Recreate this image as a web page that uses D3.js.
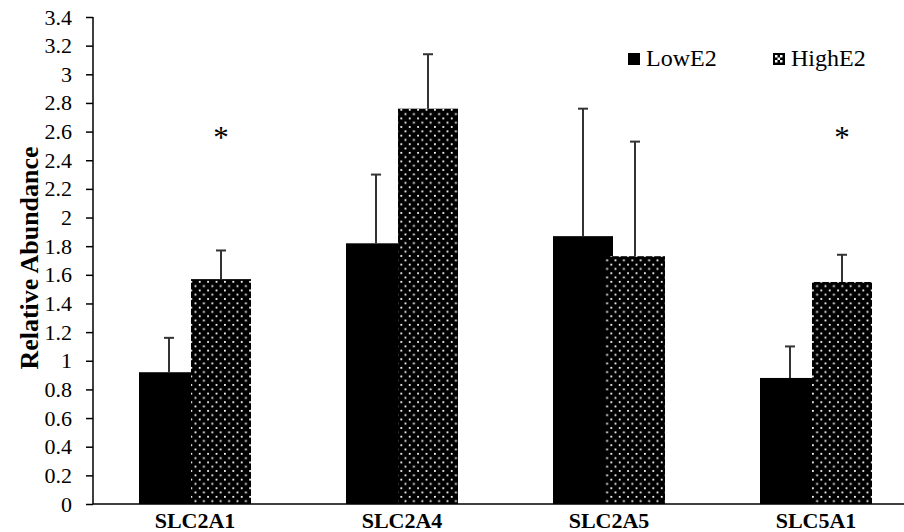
<!DOCTYPE html>
<html>
<head>
<meta charset="utf-8">
<script src="https://d3js.org/d3.v7.min.js"></script>
<style>
  body { margin: 0; background: #fff; }
  text { font-family: "Liberation Serif", "Times New Roman", serif; }
</style>
</head>
<body>
<script>
// relative abundance per gene, two E2 groups
var categories = ["SLC2A1", "SLC2A4", "SLC2A5", "SLC5A1"];
var seriesNames = ["LowE2", "HighE2"];
var lowE2 = [0.92, 1.82, 1.87, 0.88];
var lowE2Err = [0.24, 0.48, 0.89, 0.22];
var highE2 = [1.57, 2.76, 1.73, 1.55];
var highE2Err = [0.20, 0.38, 0.80, 0.19];
var significant = [true, false, false, true];
var starLevel = 2.6;
var yTicks = d3.range(0, 3.41, 0.2).map(function(d){ return +d.toFixed(1); });

var width = 904, height = 532;
var svg = d3.select("body").append("svg").attr("width", width).attr("height", height);

// dotted fill for HighE2
var defs = svg.append("defs");
var pat = defs.append("pattern").attr("id", "dots")
    .attr("patternUnits", "userSpaceOnUse")
    .attr("width", 8.4).attr("height", 8.6);
pat.append("rect").attr("width", 8.4).attr("height", 8.6).attr("fill", "#000");
pat.append("rect").attr("x", 1.4).attr("y", 1.4).attr("width", 1.8).attr("height", 1.8).attr("fill", "#fff");
pat.append("rect").attr("x", 5.6).attr("y", 5.7).attr("width", 1.8).attr("height", 1.8).attr("fill", "#fff");

var y = d3.scaleLinear().domain([0, 3.4]).range([504, 17]);
var x0 = d3.scaleBand().domain(categories).range([91.5, 919.5]);
var x1 = d3.scaleBand().domain(seriesNames).range([-52, 52]);
var barW = 60;

var rows = categories.map(function(c, i){
  return [
    {cat: c, s: "LowE2", v: lowE2[i], e: lowE2Err[i]},
    {cat: c, s: "HighE2", v: highE2[i], e: highE2Err[i]}
  ];
});
function cx(d){ return x0(d.cat) + x0.bandwidth()/2 + x1(d.s) + x1.bandwidth()/2; }

// bars (HighE2 drawn after so it overlaps)
seriesNames.forEach(function(s, si){
  svg.append("g").selectAll("rect")
    .data(rows.map(function(r){ return r[si]; }))
    .join("rect")
    .attr("x", function(d){ return cx(d) - barW/2; })
    .attr("y", function(d){ return y(d.v); })
    .attr("width", barW)
    .attr("height", function(d){ return y(0) - y(d.v); })
    .attr("fill", s == "LowE2" ? "#000" : "url(#dots)");
});

// error bars, upper only
var errs = svg.append("g").selectAll("g").data(d3.merge(rows)).join("g")
    .attr("stroke", "#333").attr("stroke-width", 2);
errs.append("line")
    .attr("x1", cx).attr("x2", cx)
    .attr("y1", function(d){ return y(d.v); })
    .attr("y2", function(d){ return y(d.v + d.e); });
errs.append("line")
    .attr("x1", function(d){ return cx(d) - 5; }).attr("x2", function(d){ return cx(d) + 5; })
    .attr("y1", function(d){ return y(d.v + d.e); })
    .attr("y2", function(d){ return y(d.v + d.e); });

// significance stars
svg.append("g").selectAll("text")
    .data(categories.filter(function(c, i){ return significant[i]; }))
    .join("text")
    .attr("x", function(c){ return cx({cat: c, s: "HighE2"}); })
    .attr("y", y(starLevel) + 16)
    .attr("text-anchor", "middle")
    .style("font-size", "31px")
    .text("*");

// y axis
var yAxis = svg.append("g").attr("transform", "translate(93,0)")
    .call(d3.axisLeft(y).tickValues(yTicks).tickFormat(d3.format("~g"))
      .tickSize(7).tickPadding(14));
yAxis.select(".domain").attr("stroke", "#000").attr("stroke-width", 1.5).attr("d", "M0," + y(3.4) + "V" + y(0));
yAxis.selectAll(".tick line").attr("stroke", "#000").attr("stroke-width", 1.5);
yAxis.selectAll(".tick text").attr("fill", "#000").style("font-size", "22px")
    .style("font-family", "'Liberation Serif', serif");

// x axis
var xAxis = svg.append("g").attr("transform", "translate(0," + y(0) + ")")
    .call(d3.axisBottom(x0).tickSize(0).tickPadding(8));
xAxis.select(".domain").attr("stroke", "#000").attr("stroke-width", 1.5).attr("d", "M93,0H904");
xAxis.selectAll(".tick text").attr("fill", "#000").style("font-size", "22px")
    .style("font-weight", "bold").style("font-family", "'Liberation Serif', serif");

// axis title
svg.append("text")
    .attr("transform", "translate(" + 38 + "," + 258 + ") rotate(-90)")
    .attr("text-anchor", "middle")
    .style("font-size", "26px").style("font-weight", "bold")
    .text("Relative Abundance");

// legend
var legX = [628, 773];
var leg = svg.append("g").selectAll("g").data(seriesNames).join("g")
    .attr("transform", function(d, i){ return "translate(" + legX[i] + ",53)"; });
leg.append("rect").attr("width", 12).attr("height", 12).attr("fill", "#000");
leg.filter(function(d){ return d == "HighE2"; }).each(function(){
  var g = d3.select(this);
  [[2,2],[7,2],[4.5,4.5],[2,7],[7,7]].forEach(function(p){
    g.append("rect").attr("x", p[0]).attr("y", p[1]).attr("width", 2.5).attr("height", 2.5).attr("fill", "#fff");
  });
});
leg.append("text").attr("x", 18).attr("y", 13)
    .style("font-size", "24px").text(function(d){ return d; });
</script>
</body>
</html>
